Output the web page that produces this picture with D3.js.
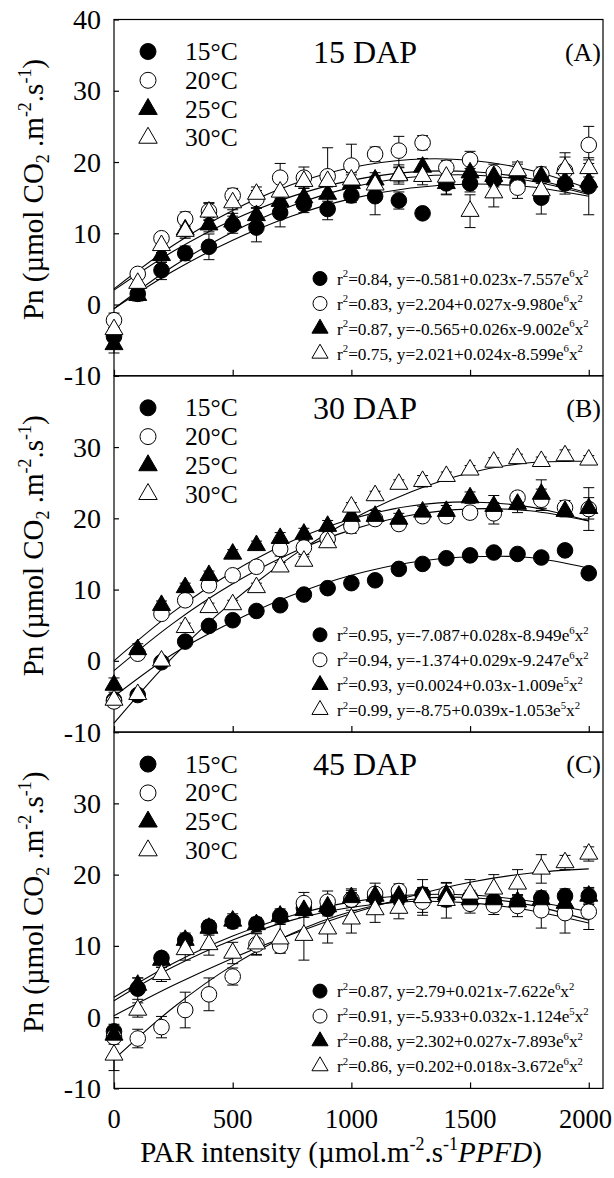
<!DOCTYPE html>
<html><head><meta charset="utf-8">
<script src="https://cdn.jsdelivr.net/npm/d3@7"></script>
<style>
body{margin:0;background:#fff}
svg text{font-family:"Liberation Serif","Times New Roman",serif;fill:#000}
</style>
</head><body>
<svg id="chart" width="614" height="1178"></svg>
<script>
// ---------- data ----------
const par = [0,100,200,300,400,500,600,700,800,900,1000,1100,1200,1300,1400,1500,1600,1700,1800,1900,2000];
const temps = ["15°C","20°C","25°C","30°C"];
const panelTitles = ["15 DAP","30 DAP","45 DAP"];
const panelLetters = ["(A)","(B)","(C)"];
const xTicks = [0,500,1000,1500,2000];
const yTicks = [-10,0,10,20,30,40];

// 15 DAP
const a15 = [-4.5,1.5,4.8,7.2,8.1,11.2,10.8,12.9,14.1,13.4,15.3,15.2,14.6,12.8,17.0,17.0,17.5,17.0,15.0,17.0,16.6];
const a20 = [-2.2,4.3,9.3,12.0,13.1,15.3,14.8,17.8,17.8,18.0,19.5,21.1,21.6,22.7,19.2,20.3,18.5,16.4,18.3,18.8,22.4];
const a25 = [-5.6,1.3,6.9,10.5,11.2,11.6,12.5,14.5,15.0,15.5,17.0,17.5,18.2,19.3,17.0,18.5,18.0,18.5,18.0,17.3,17.2];
const a30 = [-3.5,3.0,8.3,10.3,13.0,14.3,15.5,15.8,17.3,17.3,17.5,16.8,18.1,18.0,17.9,13.1,15.7,18.8,16.0,19.1,19.1];
const a15e = [1.2,0.8,1.3,1.0,1.8,1.2,2.0,2.0,1.2,1.5,1.0,2.6,1.2,0.5,1.6,1.2,1.0,1.3,2.3,1.5,4.0];
const a20e = [1.0,0.6,0.8,1.0,1.2,1.0,1.2,2.0,1.5,4.0,3.0,1.0,2.0,1.0,1.0,1.2,1.2,1.5,1.0,2.5,2.6];
const a25e = [1.2,0.8,1.0,1.0,1.0,1.2,1.0,1.0,1.5,1.0,1.2,1.0,1.0,1.2,1.5,1.5,1.0,1.2,1.0,1.2,1.2];
const a30e = [1.0,0.8,1.0,1.0,1.2,1.0,1.0,1.5,1.0,1.5,1.0,1.2,1.2,1.2,1.2,2.3,2.0,1.2,1.2,1.6,1.2];

// 30 DAP
const b15 = [-5.5,-4.8,-0.2,2.7,4.9,5.7,7.0,7.8,9.3,10.2,10.9,11.3,12.9,13.6,14.4,14.8,15.2,15.0,14.5,15.5,12.3];
const b20 = [-5.7,1.0,6.6,8.5,10.6,12.0,13.2,15.7,15.9,17.1,18.9,19.9,19.2,20.3,20.3,20.8,20.7,22.9,22.6,21.5,21.3];
const b25 = [-3.4,1.6,7.8,10.3,12.0,15.0,16.2,17.2,17.8,18.9,20.3,20.3,19.9,20.9,21.0,22.9,21.7,22.0,23.4,21.0,21.4];
const b30 = [-5.5,-4.7,0.0,4.7,7.5,7.9,10.3,13.2,14.0,16.6,21.6,23.2,24.8,25.2,25.9,26.8,27.9,28.4,28.0,28.8,28.2];
const b15e = [0.5,0.5,0.5,0.5,0.5,0.5,0.5,0.5,0.5,0.5,0.5,0.5,0.5,0.5,0.5,0.5,0.5,0.5,0.5,0.5,0.5];
const b20e = [0.8,0.8,0.6,0.8,0.8,0.6,0.8,1.0,1.0,0.8,1.0,0.8,0.8,0.8,0.8,0.8,1.5,0.8,1.5,1.0,3.0];
const b25e = [1.0,0.8,0.6,0.6,0.6,0.6,0.6,0.8,0.8,0.8,0.8,0.8,0.8,0.8,0.8,0.8,1.5,1.2,2.0,0.8,1.5];
const b30e = [0.6,0.6,0.6,0.6,0.6,0.6,0.6,0.6,0.6,0.6,0.6,0.6,0.6,0.8,0.6,0.6,0.6,0.6,0.6,0.8,0.6];

// 45 DAP
const c15 = [-2.0,4.0,8.3,10.8,12.7,13.4,13.1,14.2,15.3,15.2,16.5,16.8,16.8,17.2,16.5,16.8,16.3,16.0,16.7,17.0,17.0];
const c20 = [-2.8,-3.0,-1.4,1.0,3.2,5.7,10.2,10.0,16.0,16.2,16.5,17.3,17.7,16.2,17.3,15.9,15.7,15.6,15.0,14.6,14.8];
const c25 = [-2.5,4.5,8.0,10.8,12.5,13.5,13.0,14.2,15.0,15.5,16.8,17.0,17.0,17.0,17.2,16.5,16.5,16.2,16.5,16.0,17.0];
const c30 = [-5.3,1.0,6.0,9.5,10.2,9.0,10.3,11.0,11.5,12.4,13.8,15.1,15.3,16.8,16.4,17.3,18.0,18.7,20.8,21.7,22.9];
const c15e = [1.0,1.5,0.8,0.8,0.8,0.8,0.8,0.8,1.0,1.0,1.0,1.0,1.0,1.0,1.0,1.0,1.0,1.0,1.0,1.0,1.2];
const c20e = [1.0,1.3,1.5,2.5,2.3,1.2,1.5,1.0,1.5,1.5,1.5,1.5,1.0,1.5,1.5,1.3,1.3,1.5,2.5,2.8,2.5];
const c25e = [1.0,1.0,1.0,1.0,1.0,1.0,1.0,1.0,1.0,1.0,1.0,1.0,1.0,1.0,1.0,1.0,1.0,1.0,1.0,1.0,1.0];
const c30e = [2.2,1.0,1.0,1.5,1.5,1.5,1.5,2.0,3.5,2.0,2.0,1.8,1.5,2.5,2.5,2.0,2.0,2.0,2.0,1.0,1.0];

// fitted curves, read at these PAR values
const fitX = [0,250,500,750,1000,1250,1500,1750,2000];
const fitA15 = [-0.58,4.70,9.03,12.42,14.86,16.36,16.92,16.53,15.19];
const fitA20 = [2.20,8.33,13.21,16.84,19.22,20.36,20.25,18.89,16.28];
const fitA25 = [-0.57,5.37,10.19,13.87,16.44,17.87,18.18,17.37,15.43];
const fitA30 = [2.02,7.48,11.87,15.18,17.42,18.58,18.67,17.69,15.62];
const fitB15 = [-5.0,1.0,5.5,9.2,12.0,13.8,14.6,14.5,13.0];
const fitB20 = [-1.37,5.30,10.81,15.18,18.38,20.43,21.32,21.06,19.64];
const fitB25 = [0.00,6.87,12.48,16.82,19.91,21.73,22.30,21.60,19.64];
const fitB30 = [-8.75,0.6,8.3,14.7,19.8,23.7,26.4,27.8,28.0];
const fitC15 = [2.79,7.56,11.38,14.25,16.17,17.13,17.14,16.30,14.8];
const fitC20 = [-5.93,1.36,7.26,11.75,14.83,16.51,16.78,15.75,13.6];
const fitC25 = [2.30,7.06,10.83,13.61,15.41,16.22,16.04,15.0,13.2];
const fitC30 = [0.20,4.47,8.28,11.64,14.53,16.96,18.94,20.2,20.8];

const eqA = ["r^{2}=0.84, y=-0.581+0.023x-7.557e^{6}x^{2}","r^{2}=0.83, y=2.204+0.027x-9.980e^{6}x^{2}","r^{2}=0.87, y=-0.565+0.026x-9.002e^{6}x^{2}","r^{2}=0.75, y=2.021+0.024x-8.599e^{6}x^{2}"];
const eqB = ["r^{2}=0.95, y=-7.087+0.028x-8.949e^{6}x^{2}","r^{2}=0.94, y=-1.374+0.029x-9.247e^{6}x^{2}","r^{2}=0.93, y=0.0024+0.03x-1.009e^{5}x^{2}","r^{2}=0.99, y=-8.75+0.039x-1.053e^{5}x^{2}"];
const eqC = ["r^{2}=0.87, y=2.79+0.021x-7.622e^{6}x^{2}","r^{2}=0.91, y=-5.933+0.032x-1.124e^{5}x^{2}","r^{2}=0.88, y=2.302+0.027x-7.893e^{6}x^{2}","r^{2}=0.86, y=0.202+0.018x-3.672e^{6}x^{2}"];

const yLabel = "Pn (µmol CO_{2} .m^{-2}.s^{-1})";
const xLabel = "PAR intensity (µmol.m^{-2}.s^{-1}*{PPFD})";

// ---------- assemble ----------
const panels = [
  {title:panelTitles[0], letter:panelLetters[0], series:[a15,a20,a25,a30], errs:[a15e,a20e,a25e,a30e], fits:[fitA15,fitA20,fitA25,fitA30], eqs:eqA},
  {title:panelTitles[1], letter:panelLetters[1], series:[b15,b20,b25,b30], errs:[b15e,b20e,b25e,b30e], fits:[fitB15,fitB20,fitB25,fitB30], eqs:eqB},
  {title:panelTitles[2], letter:panelLetters[2], series:[c15,c20,c25,c30], errs:[c15e,c20e,c25e,c30e], fits:[fitC15,fitC20,fitC25,fitC30], eqs:eqC}
];
const markerType = ["circle","circle","triangle","triangle"];
const markerFill = ["#000","#fff","#000","#fff"];

const svg = d3.select("#chart");
const left = 114, right = 603, top0 = 19.5, ph = 356.3;
const x = d3.scaleLinear().domain([0,2060]).range([left,right]);

function rich(sel, str, base){
  const parts = str.split(/(\^\{[^}]*\}|_\{[^}]*\}|\*\{[^}]*\})/).filter(s=>s.length);
  let shift = 0;
  parts.forEach(p=>{
    let content=p, target=0, size=base, italic=false;
    if(p.startsWith("^{")){content=p.slice(2,-1); target=-0.42*base; size=0.62*base;}
    else if(p.startsWith("_{")){content=p.slice(2,-1); target=0.22*base; size=0.62*base;}
    else if(p.startsWith("*{")){content=p.slice(2,-1); italic=true;}
    const t = sel.append("tspan").attr("font-size",size).attr("dy",target-shift).text(content);
    if(italic) t.attr("font-style","italic");
    shift = target;
  });
}

function marker(g, type, fill, cx, cy, r){
  if(type==="circle"){
    g.append("circle").attr("cx",cx).attr("cy",cy).attr("r",r)
      .attr("fill",fill).attr("stroke","#000").attr("stroke-width",1);
  } else {
    g.append("path").attr("d",d3.symbol(d3.symbolTriangle, r*r*2.3)())
      .attr("transform",`translate(${cx},${cy})`)
      .attr("fill",fill).attr("stroke","#000").attr("stroke-width",1);
  }
}

panels.forEach((P,pi)=>{
  const top = top0 + pi*ph, bottom = top + ph;
  const y = d3.scaleLinear().domain([-10,40]).range([bottom,top]);
  const g = svg.append("g");

  // frame
  g.append("rect").attr("x",left).attr("y",top).attr("width",right-left).attr("height",ph)
    .attr("fill","none").attr("stroke","#000").attr("stroke-width",1.2);

  // axes (inward ticks)
  const ya = g.append("g").attr("transform",`translate(${left},0)`)
    .call(d3.axisRight(y).tickValues(yTicks).tickSize(5).tickFormat(""));
  ya.select(".domain").remove();
  const xa = g.append("g").attr("transform",`translate(0,${bottom})`)
    .call(d3.axisTop(x).tickValues(xTicks).tickSize(6).tickFormat(""));
  xa.select(".domain").remove();
  g.selectAll(".tick line").attr("stroke","#000").attr("stroke-width",1.2);

  // y tick labels
  const yl = pi===0 ? yTicks : yTicks.filter(v=>v<40);
  g.selectAll(".ylab").data(yl).enter().append("text")
    .attr("x",left-13).attr("y",d=>y(d)+9.5).attr("text-anchor","end")
    .attr("font-size",28).text(d=>d);

  // y axis label
  const yt = g.append("text").attr("transform",`translate(43,${top+170}) rotate(-90)`)
    .attr("text-anchor","middle").attr("font-size",29);
  rich(yt, yLabel, 29);

  // fitted curves
  const line = d3.line().x((d,i)=>x(fitX[i])).y(d=>y(d)).curve(d3.curveCatmullRom);
  P.fits.forEach(f=>{
    g.append("path").attr("d",line(f)).attr("fill","none").attr("stroke","#000").attr("stroke-width",1.1);
  });

  // error bars
  P.series.forEach((s,si)=>{
    const e = P.errs[si];
    s.forEach((v,i)=>{
      const cx = x(par[i]), y1 = y(v-e[i]), y2 = y(v+e[i]);
      g.append("line").attr("x1",cx).attr("x2",cx).attr("y1",y1).attr("y2",y2).attr("stroke","#000").attr("stroke-width",1);
      [y1,y2].forEach(yy=>g.append("line").attr("x1",cx-5.5).attr("x2",cx+5.5).attr("y1",yy).attr("y2",yy).attr("stroke","#000").attr("stroke-width",1));
    });
  });

  // markers
  P.series.forEach((s,si)=>{
    s.forEach((v,i)=>marker(g, markerType[si], markerFill[si], x(par[i]), y(v), 7.8));
  });

  // temperature legend
  temps.forEach((t,ti)=>{
    const cy = top + 32 + ti*28.8;
    marker(g, markerType[ti], markerFill[ti], 148, cy, 8);
    g.append("text").attr("x",185).attr("y",cy+8.5).attr("font-size",25.5).text(t);
  });

  // title + letter
  g.append("text").attr("x",313).attr("y",top+43).attr("font-size",32).text(P.title);
  g.append("text").attr("x",601).attr("y",top+41).attr("text-anchor","end").attr("font-size",26).text(P.letter);

  // equation legend
  P.eqs.forEach((eq,ei)=>{
    const cy = top + 259 + ei*25;
    marker(g, markerType[ei], markerFill[ei], 320, cy, 7);
    const t = g.append("text").attr("x",337).attr("y",cy+6).attr("font-size",17.3);
    rich(t, eq, 17.3);
  });

  // x tick labels on the bottom panel
  if(pi===2){
    g.selectAll(".xlab").data(xTicks).enter().append("text")
      .attr("x",d=>d===2000 ? 612 : x(d))
      .attr("y",bottom+40)
      .attr("text-anchor",d=>d===2000 ? "end" : "middle")
      .attr("font-size",26.5).text(d=>d);
    const xt = g.append("text").attr("x",341).attr("y",1162).attr("text-anchor","middle").attr("font-size",29);
    rich(xt, xLabel, 29);
  }
});
</script>
</body></html>
